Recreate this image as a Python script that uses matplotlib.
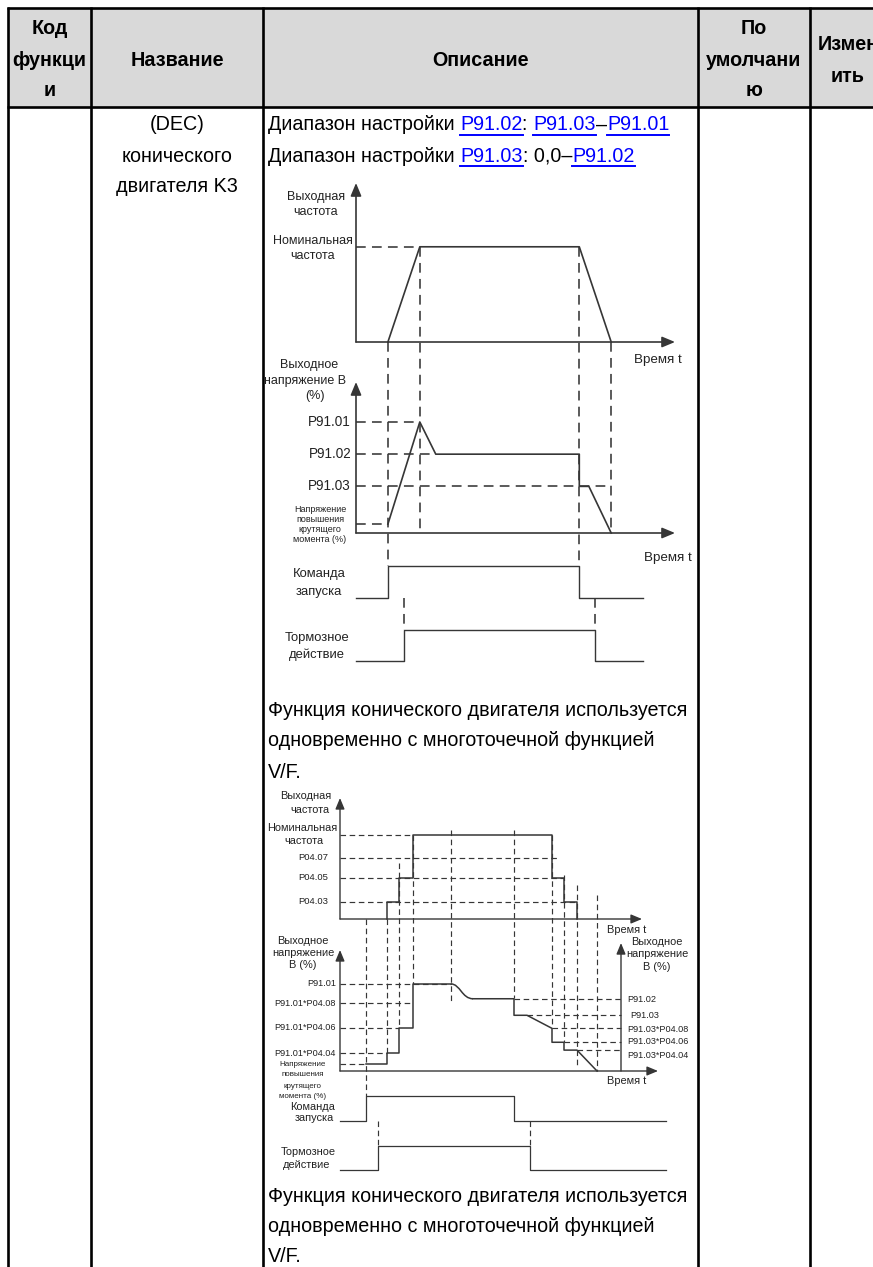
import matplotlib
matplotlib.use("Agg")
import matplotlib.pyplot as plt
from matplotlib import transforms
from matplotlib.path import Path
from matplotlib.patches import PathPatch, Rectangle

plt.rcParams['font.family'] = ['Liberation Sans', 'DejaVu Sans']
plt.rcParams['lines.scale_dashes'] = False

# ---------------- data ----------------
header_cols = [["Код", "функци", "и"], ["Название"], ["Описание"],
               ["По", "умолчани", "ю"], ["Измен", "ить"]]
name_lines = ["(DEC)", "конического", "двигателя K3"]
range_line1 = [("Диапазон настройки ", None), ("P91.02", "link"), (": ", None),
               ("P91.03", "link"), ("–", None), ("P91.01", "link")]
range_line2 = [("Диапазон настройки ", None), ("P91.03", "link"), (": 0,0–", None),
               ("P91.02", "link")]
note_lines = ["Функция конического двигателя используется",
              "одновременно с многоточечной функцией", "V/F."]

# diagram 1 (time in arbitrary units, levels in %)
d1_freq_t = [1, 2, 7, 8]
d1_freq = [0, 100, 100, 0]
d1_volt_t = [1, 2, 2.5, 7, 7, 7.3, 8]
d1_volt = [8, 100, 71, 71, 42, 42, 0]
d1_levels = {"P91.01": 100, "P91.02": 71, "P91.03": 42, "boost": 8}
d1_level_end = {"P91.01": 2, "P91.02": 2.5, "P91.03": 8, "boost": 1}
d1_nominal = 100
d1_cmd_t = [0, 1, 1, 7, 7, 9]
d1_cmd = [0, 0, 1, 1, 0, 0]
d1_brk_t = [0, 1.5, 1.5, 7.5, 7.5, 9]
d1_brk = [0, 0, 1, 1, 0, 0]

# diagram 2 (multi-point V/F)
d2_freq_t = [4.7, 4.7, 5.9, 5.9, 7.3, 7.3, 21.2, 21.2, 22.4, 22.4, 23.7, 23.7]
d2_freq = [0, 20, 20, 49, 49, 100, 100, 49, 49, 20, 20, 0]
d2_freq_levels = {"Номинальная\nчастота": 100, "P04.07": 73, "P04.05": 49, "P04.03": 20}
d2_freq_level_end = {"Номинальная\nчастота": 7.3, "P04.07": 21.8, "P04.05": 22.4, "P04.03": 23.7}
d2_volt_t1 = [2.6, 4.7, 4.7, 5.9, 5.9, 7.3, 7.3, 11.1]
d2_volt1 = [8, 8, 21, 21, 49, 49, 100, 100]
d2_curve_end = (13.3, 83)
d2_volt_t2 = [13.3, 17.4, 17.4, 18.7, 21.2, 21.2, 22.4, 22.4, 23.7, 25.7]
d2_volt2 = [83, 83, 64, 64, 49, 33, 33, 24, 24, 0]
d2_left_levels = [("P91.01", 100, 11.1), ("P91.01*P04.08", 78, 7.3),
                  ("P91.01*P04.06", 49, 5.9), ("P91.01*P04.04", 21, 4.7), ("", 8, 2.6)]
d2_right_levels = [("P91.02", 83, 17.4), ("P91.03", 64, 18.7), ("P91.03*P04.08", 49, 21.2),
                   ("P91.03*P04.06", 33, 22.4), ("P91.03*P04.04", 24, 23.7)]
d2_right_axis_t = 28.1
d2_cmd_t = [0, 2.6, 2.6, 17.4, 17.4, 32.6]
d2_cmd = [0, 0, 1, 1, 0, 0]
d2_brk_t = [0, 3.8, 3.8, 19.0, 19.0, 32.6]
d2_brk = [0, 0, 1, 1, 0, 0]

# ---------------- layout ----------------
W, H = 873, 1267
fig = plt.figure(figsize=(W / 100, H / 100), dpi=100)
ov = fig.add_axes([0, 0, 1, 1])
ov.set_xlim(0, W)
ov.set_ylim(H, 0)
ov.axis('off')


def pt(px):
    return px * 0.72


LC = '#363636'   # diagram line colour
TC = '#222222'   # diagram text colour
BODY = pt(19.8)

# ---- table ----
col_x = [8, 91, 263, 698, 810, 886]
top, hdr_bot = 8, 107
ov.add_patch(Rectangle((col_x[0], top), W - col_x[0] + 10, hdr_bot - top, fc='#d9d9d9', ec='none', zorder=0))
for x in col_x[:-1]:
    ov.plot([x, x], [top - 1, H + 5], color='k', lw=1.9, solid_capstyle='butt', zorder=3)
for y in (top, hdr_bot):
    ov.plot([col_x[0] - 1, W + 5], [y, y], color='k', lw=1.9, solid_capstyle='butt', zorder=3)

line_pos = {1: [60], 2: [45, 76], 3: [29, 60, 91]}
for i, lines in enumerate(header_cols):
    cx = (col_x[i] + col_x[i + 1]) / 2
    for s, y in zip(lines, line_pos[len(lines)]):
        ov.text(cx, y, s, ha='center', va='center', fontsize=BODY, fontweight='bold', color='k')

for s, y in zip(name_lines, [125, 156, 187]):
    ov.text(177, y, s, ha='center', va='center', fontsize=BODY, color='k')

fig.canvas.draw()
renderer = fig.canvas.get_renderer()


def text_runs(x, y, runs, size):
    for s, kind in runs:
        col = '#0000ff' if kind == 'link' else 'k'
        t = ov.text(x, y, s, ha='left', va='center', fontsize=size, color=col)
        w = t.get_window_extent(renderer).width
        if kind == 'link':
            ov.plot([x, x + w], [y + 10, y + 10], color=col, lw=1.4)
        x += w


text_runs(268, 125, range_line1, BODY)
text_runs(268, 156, range_line2, BODY)

for s, y in zip(note_lines, [710, 741, 772]):
    ov.text(268, y, s, ha='left', va='center', fontsize=BODY, color='k')
for s, y in zip(note_lines, [1197, 1227, 1257]):
    ov.text(268, y, s, ha='left', va='center', fontsize=BODY, color='k')


def panel(x0, y0, x1, y1, xlim, ylim):
    a = fig.add_axes([x0 / W, 1 - y0 / H, (x1 - x0) / W, (y0 - y1) / H])
    a.set_xlim(*xlim)
    a.set_ylim(*ylim)
    a.axis('off')
    a.patch.set_alpha(0)
    return a


def axis_arrows(a, lw, ms, both=True):
    st = '-|>,head_length=0.6,head_width=0.25'
    a.annotate('', xy=(1, 0), xytext=(0, 0), xycoords='axes fraction', textcoords='axes fraction',
               arrowprops=dict(arrowstyle=st, color=LC, lw=lw, shrinkA=0, shrinkB=0, mutation_scale=ms),
               annotation_clip=False)
    if both:
        a.annotate('', xy=(0, 1), xytext=(0, 0), xycoords='axes fraction', textcoords='axes fraction',
                   arrowprops=dict(arrowstyle=st, color=LC, lw=lw, shrinkA=0, shrinkB=0, mutation_scale=ms),
                   annotation_clip=False)


# ============ diagram 1 ============
D1 = dict(ls=(0, (7.0, 4.5)), lw=1.15, color=LC)
f1 = panel(356, 342, 675, 183, (0, 10), (0, 167))
v1 = panel(356, 533, 675, 382, (0, 10), (0, 136))
c1 = panel(356, 598, 643, 566, (0, 9), (0, 1))
b1 = panel(356, 661, 643, 630, (0, 9), (0, 1))
for a in (f1, v1):
    axis_arrows(a, 1.2, 13)
f1.plot(d1_freq_t, d1_freq, color=LC, lw=1.2, clip_on=False)
f1.plot([0, d1_freq_t[1]], [d1_nominal, d1_nominal], clip_on=False, **D1)
v1.plot(d1_volt_t, d1_volt, color=LC, lw=1.2, clip_on=False)
for k, lev in d1_levels.items():
    v1.plot([0, d1_level_end[k]], [lev, lev], clip_on=False, **D1)
c1.plot(d1_cmd_t, d1_cmd, color=LC, lw=1.0, clip_on=False)
b1.plot(d1_brk_t, d1_brk, color=LC, lw=1.0, clip_on=False)

tr1 = transforms.blended_transform_factory(f1.transData, ov.transData)
d1_vdash = [(d1_freq_t[0], 342, 566), (d1_freq_t[1], 247, 533), (d1_freq_t[2], 247, 566),
            (d1_freq_t[3], 342, 533), (d1_brk_t[1], 598, 630), (d1_brk_t[3], 598, 630)]
for t, ya, yb in d1_vdash:
    ov.plot([t, t], [ya, yb], transform=tr1, **D1)

s1 = pt(12.5)
ov.text(316, 197, "Выходная", ha='center', va='center', fontsize=s1, color=TC)
ov.text(316, 212, "частота", ha='center', va='center', fontsize=s1, color=TC)
ov.text(313, 241, "Номинальная", ha='center', va='center', fontsize=s1, color=TC)
ov.text(313, 256, "частота", ha='center', va='center', fontsize=s1, color=TC)
ov.text(658, 360, "Время t", ha='center', va='center', fontsize=pt(13.4), color=TC)
ov.text(309, 365, "Выходное", ha='center', va='center', fontsize=s1, color=TC)
ov.text(305, 381, "напряжение B", ha='center', va='center', fontsize=s1, color=TC)
ov.text(315, 396, "(%)", ha='center', va='center', fontsize=s1, color=TC)
lab_y = {"P91.01": 422, "P91.02": 454, "P91.03": 486}
for k, y in lab_y.items():
    ov.text(351, y, k, ha='right', va='center', fontsize=pt(13.5), color=TC)
for s, y in zip(["Напряжение", "повышения", "крутящего", "момента (%)"], [510, 520, 530, 540]):
    ov.text(320, y, s, ha='center', va='center', fontsize=pt(9), color=TC)
ov.text(668, 558, "Время t", ha='center', va='center', fontsize=pt(13.4), color=TC)
ov.text(319, 574, "Команда", ha='center', va='center', fontsize=pt(13), color=TC)
ov.text(319, 592, "запуска", ha='center', va='center', fontsize=pt(13), color=TC)
ov.text(317, 638, "Тормозное", ha='center', va='center', fontsize=pt(13), color=TC)
ov.text(317, 655, "действие", ha='center', va='center', fontsize=pt(13), color=TC)

# ============ diagram 2 ============
D2 = dict(ls=(0, (4.0, 2.6)), lw=0.85, color=LC)
f2 = panel(340, 919, 642, 798, (0, 30.2), (0, 144))
v2 = panel(340, 1071, 658, 950, (0, 31.8), (0, 139))
c2 = panel(340, 1121, 666, 1096, (0, 32.6), (0, 1))
b2 = panel(340, 1170, 666, 1146, (0, 32.6), (0, 1))
for a in (f2, v2):
    axis_arrows(a, 1.0, 11)
v2.annotate('', xy=(d2_right_axis_t, 147), xytext=(d2_right_axis_t, 0),
            arrowprops=dict(arrowstyle='-|>,head_length=0.6,head_width=0.25', color=LC, lw=1.0,
                            shrinkA=0, shrinkB=0, mutation_scale=11), annotation_clip=False)
f2.plot(d2_freq_t, d2_freq, color=LC, lw=1.1, clip_on=False)
for k, lev in d2_freq_levels.items():
    f2.plot([0, d2_freq_level_end[k]], [lev, lev], clip_on=False, **D2)

v2.plot(d2_volt_t1, d2_volt1, color=LC, lw=1.1, clip_on=False)
p0 = (d2_volt_t1[-1], d2_volt1[-1])
curve = Path([p0, (p0[0] + 0.9, p0[1]), (d2_curve_end[0] - 1.1, d2_curve_end[1]), d2_curve_end],
             [Path.MOVETO, Path.CURVE4, Path.CURVE4, Path.CURVE4])
v2.add_patch(PathPatch(curve, fc='none', ec=LC, lw=1.1, clip_on=False))
v2.plot(d2_volt_t2, d2_volt2, color=LC, lw=1.1, clip_on=False)
for lab, lev, te in d2_left_levels:
    v2.plot([0, te], [lev, lev], clip_on=False, **D2)
for lab, lev, ts in d2_right_levels:
    v2.plot([ts, d2_right_axis_t], [lev, lev], clip_on=False, **D2)
c2.plot(d2_cmd_t, d2_cmd, color=LC, lw=0.9, clip_on=False)
b2.plot(d2_brk_t, d2_brk, color=LC, lw=0.9, clip_on=False)

tr2 = transforms.blended_transform_factory(f2.transData, ov.transData)
d2_vdash = [(d2_cmd_t[1], 919, 1096), (d2_freq_t[0], 919, 1053), (d2_freq_t[2], 863, 1028),
            (d2_freq_t[4], 835, 984), (d2_volt_t1[-1], 830, 1002), (d2_cmd_t[3], 830, 998),
            (d2_freq_t[6], 835, 1028), (d2_freq_t[8], 875, 1042), (d2_freq_t[10], 885, 1067),
            (d2_volt_t2[-1], 895, 1071), (d2_brk_t[1], 1121, 1146), (d2_brk_t[3], 1121, 1146)]
for t, ya, yb in d2_vdash:
    ov.plot([t, t], [ya, yb], transform=tr2, **D2)

s2 = pt(11)
ov.text(306, 796, "Выходная", ha='center', va='center', fontsize=s2, color=TC)
ov.text(310, 810, "частота", ha='center', va='center', fontsize=s2, color=TC)
ov.text(302, 828, "Номинальная", ha='center', va='center', fontsize=s2, color=TC)
ov.text(304, 841, "частота", ha='center', va='center', fontsize=s2, color=TC)
for k, y in zip(["P04.07", "P04.05", "P04.03"], [858, 878, 902]):
    ov.text(328, y, k, ha='right', va='center', fontsize=pt(9.5), color=TC)
ov.text(627, 930, "Время t", ha='center', va='center', fontsize=pt(11), color=TC)
for s, y in zip(["Выходное", "напряжение", "B (%)"], [941, 953, 965]):
    ov.text(303, y, s, ha='center', va='center', fontsize=s2, color=TC)
for (lab, lev, te), y in zip(d2_left_levels[:4], [984, 1003, 1028, 1053]):
    ov.text(336, y, lab, ha='right', va='center', fontsize=pt(9.2), color=TC)
for s, y in zip(["Напряжение", "повышения", "крутящего", "момента (%)"], [1064, 1075, 1086, 1096]):
    ov.text(303, y, s, ha='center', va='center', fontsize=pt(8), color=TC)
for (lab, lev, ts), y, x in zip(d2_right_levels, [999, 1016, 1029, 1042, 1056], [627, 630, 627, 627, 627]):
    ov.text(x, y, lab, ha='left', va='center', fontsize=pt(9.2), color=TC)
for s, y in zip(["Выходное", "напряжение", "B (%)"], [942, 954, 967]):
    ov.text(657, y, s, ha='center', va='center', fontsize=s2, color=TC)
ov.text(627, 1081, "Время t", ha='center', va='center', fontsize=pt(11), color=TC)
ov.text(313, 1107, "Команда", ha='center', va='center', fontsize=s2, color=TC)
ov.text(314, 1118, "запуска", ha='center', va='center', fontsize=s2, color=TC)
ov.text(308, 1152, "Тормозное", ha='center', va='center', fontsize=s2, color=TC)
ov.text(307, 1165, "действие", ha='center', va='center', fontsize=s2, color=TC)

fig.savefig("out.png", dpi=100)
